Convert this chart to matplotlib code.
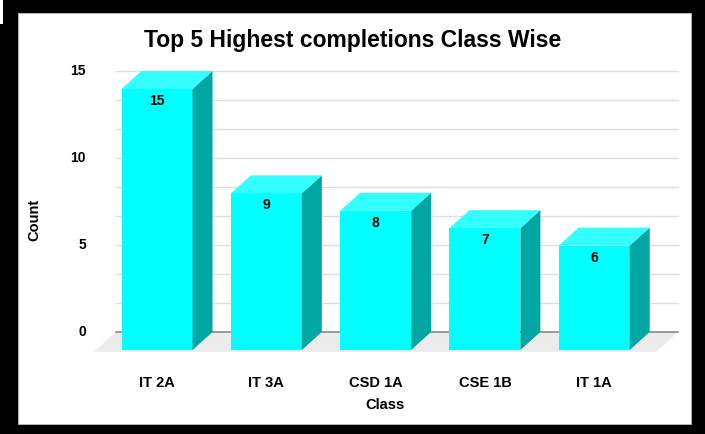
import matplotlib.pyplot as plt
from matplotlib.patches import Polygon, Rectangle

classes = ["IT 2A", "IT 3A", "CSD 1A", "CSE 1B", "IT 1A"]
counts = [15, 9, 8, 7, 6]
y_ticks = [0, 5, 10, 15]

plt.rcParams['font.family'] = ['Liberation Sans', 'DejaVu Sans']

W, H = 705, 434
fig = plt.figure(figsize=(W / 100, H / 100), dpi=100, facecolor="black")

# white card inside the black frame
fig.patches.append(Rectangle((18 / W, 1 - 424 / H), (691 - 18) / W, (424 - 13) / H,
                             transform=fig.transFigure, facecolor="white",
                             edgecolor="#bbbbbb", lw=0.6, zorder=-2))
fig.patches.append(Rectangle((0, 1 - 24 / H), 3 / W, 24 / H,
                             transform=fig.transFigure, facecolor="white",
                             edgecolor="none", zorder=-2))

# axes box in pixels
L, R, T, B = 90, 682, 60, 356
ax = fig.add_axes([L / W, 1 - B / H, (R - L) / W, (B - T) / H])
ax.set_facecolor("none")
ax.set_zorder(2)

px_per_unit = (332 - 71) / 15.0
px_per_cat = 109.3
x0_px = 177  # back-plane centre of first bar
ax.set_xlim((L - x0_px) / px_per_cat, (R - x0_px) / px_per_cat)
ax.set_ylim(-(B - 332) / px_per_unit, 15 + (71 - T) / px_per_unit)

dx = 20 / px_per_cat
dy = 18 / px_per_unit
bw = 71 / px_per_cat
gx0 = (116 - x0_px) / px_per_cat
gx1 = (678 - x0_px) / px_per_cat

# floor
ax.add_patch(Polygon([(gx0, 0), (gx1, 0), (gx1 - dx * 1.1, -dy * 1.1),
                      (gx0 - dx * 1.1, -dy * 1.1)], closed=True,
                     facecolor="#ebebeb", edgecolor="none", zorder=1))

# gridlines
for k in range(1, 10):
    v = k * 5 / 3
    ax.plot([gx0, gx1], [v, v], color="#dedede", lw=1, zorder=1)
ax.plot([gx0, gx1], [0, 0], color="#8a8a8a", lw=1.2, zorder=2)

for i, v in enumerate(counts):
    fl = i - dx - bw / 2
    fr = fl + bw
    top = v - dy
    bottom = -dy
    ax.add_patch(Rectangle((fl, bottom), bw, v, facecolor="#00ffff",
                           edgecolor="none", zorder=3))
    ax.add_patch(Polygon([(fr, bottom), (fr + dx, 0), (fr + dx, v), (fr, top)],
                         closed=True, facecolor="#00a6a2", edgecolor="none", zorder=3))
    ax.add_patch(Polygon([(fl, top), (fl + dx, v), (fr + dx, v), (fr, top)],
                         closed=True, facecolor="#33ffff", edgecolor="none", zorder=3))
    ax.text(fl + bw / 2, top - 12 / px_per_unit, str(v), ha="center", va="center",
            fontsize=10, fontweight="bold", zorder=4)
    ax.text(fl + bw / 2, -(383 - 332) / px_per_unit, classes[i], ha="center",
            va="center", fontsize=10.5, fontweight="bold", clip_on=False)

for t in y_ticks:
    ax.text((86 - x0_px) / px_per_cat, t, str(t), ha="right", va="center",
            fontsize=10, fontweight="bold", clip_on=False)

for s in ax.spines.values():
    s.set_visible(False)
ax.set_xticks([])
ax.set_yticks([])

fig.text(353 / W, 1 - 40 / H, "Top 5 Highest completions Class Wise", ha="center",
         va="center", fontsize=16.5, fontweight="bold")
fig.text(34 / W, 1 - 220 / H, "Count", rotation=90, ha="center", va="center",
         fontsize=10.5, fontweight="bold")
fig.text(385 / W, 1 - 405 / H, "Class", ha="center", va="center",
         fontsize=10.5, fontweight="bold")

fig.savefig("out.png", dpi=100, facecolor="black")
